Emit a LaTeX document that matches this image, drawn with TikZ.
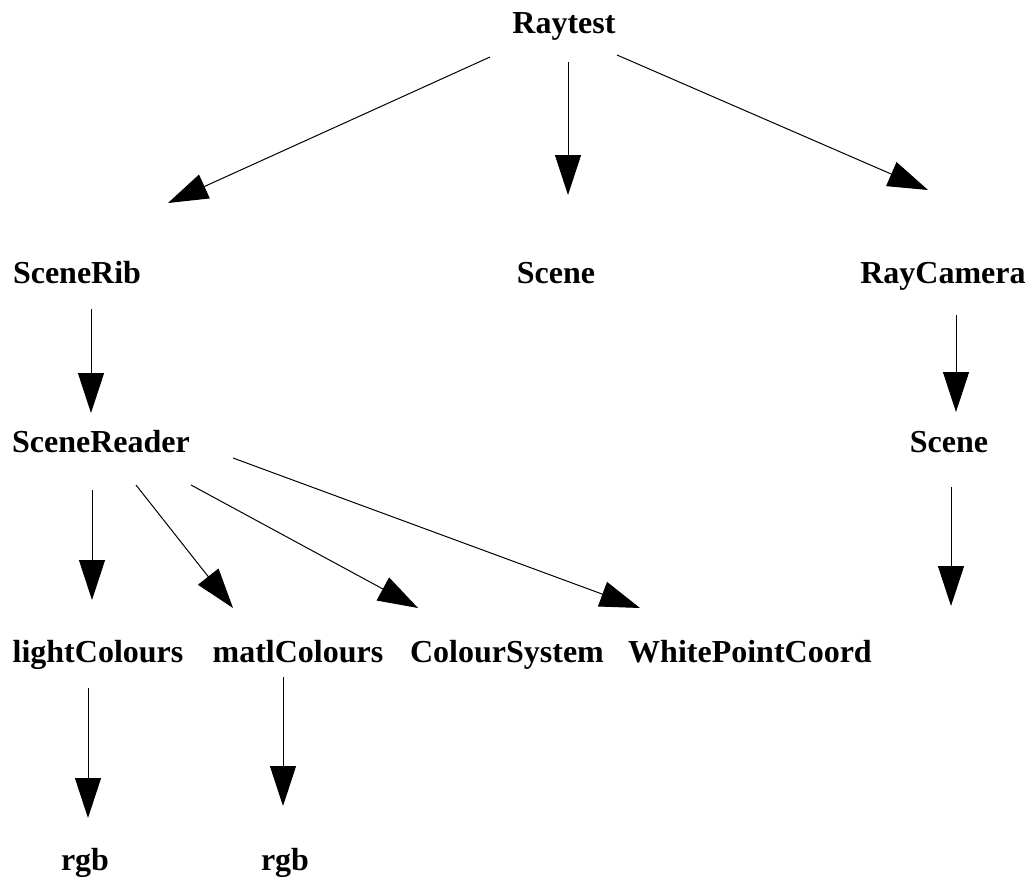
\documentclass[tikz,border=0pt]{standalone}
\usepackage{fontspec}
\setmainfont{Liberation Serif}
\usetikzlibrary{arrows.meta,calc}
\tikzset{
  lbl/.style={font=\fontsize{32}{38}\selectfont\bfseries, inner sep=0pt, anchor=base},
  edge/.style={draw=black, line width=1pt, -{Triangle[length=40pt,width=26pt]}}
}
\begin{document}
\begin{tikzpicture}[x=1pt,y=-1pt]
\useasboundingbox (0,0) rectangle (1033,881);
\node[lbl] (raytest) at (564,33) {Raytest};
\node[lbl] (scenerib) at (77,283) {SceneRib};
\node[lbl] (scene1) at (556,283) {Scene};
\node[lbl] (raycam) at (943,283) {RayCamera};
\node[lbl] (sreader) at (101,452) {SceneReader};
\node[lbl] (scene2) at (949,452) {Scene};
\node[lbl] (light) at (98,662) {lightColours};
\node[lbl] (matl) at (298,662) {matlColours};
\node[lbl] (csys) at (507,662) {ColourSystem};
\node[lbl] (wpc) at (750,662) {WhitePointCoord};
\node[lbl] (rgb1) at (85,870) {rgb};
\node[lbl] (rgb2) at (285,870) {rgb};
\coordinate (free) at (951,606);

\draw[edge] ($(raytest.base)+(-74,24)$) -- ($(scenerib.base)+(91,-80)$);
\draw[edge] ($(raytest.base)+(4,29)$) -- ($(scene1.base)+(12,-88)$);
\draw[edge] ($(raytest.base)+(53,22)$) -- ($(raycam.base)+(-15,-93)$);
\draw[edge] ($(scenerib.base)+(14,26)$) -- ($(sreader.base)+(-10,-39)$);
\draw[edge] ($(raycam.base)+(13,32)$) -- ($(scene2.base)+(7,-40)$);
\draw[edge] ($(scene2.base)+(2,35)$) -- (free);
\draw[edge] ($(sreader.base)+(-9,38)$) -- ($(light.base)+(-6,-62)$);
\draw[edge] ($(sreader.base)+(35,33)$) -- ($(matl.base)+(-65,-54)$);
\draw[edge] ($(sreader.base)+(90,33)$) -- ($(csys.base)+(-89,-54)$);
\draw[edge] ($(sreader.base)+(132,6)$) -- ($(wpc.base)+(-110,-54)$);
\draw[edge] ($(light.base)+(-10,26)$) -- ($(rgb1.base)+(3,-52)$);
\draw[edge] ($(matl.base)+(-15,15)$) -- ($(rgb2.base)+(-2,-64)$);
\end{tikzpicture}
\end{document}
